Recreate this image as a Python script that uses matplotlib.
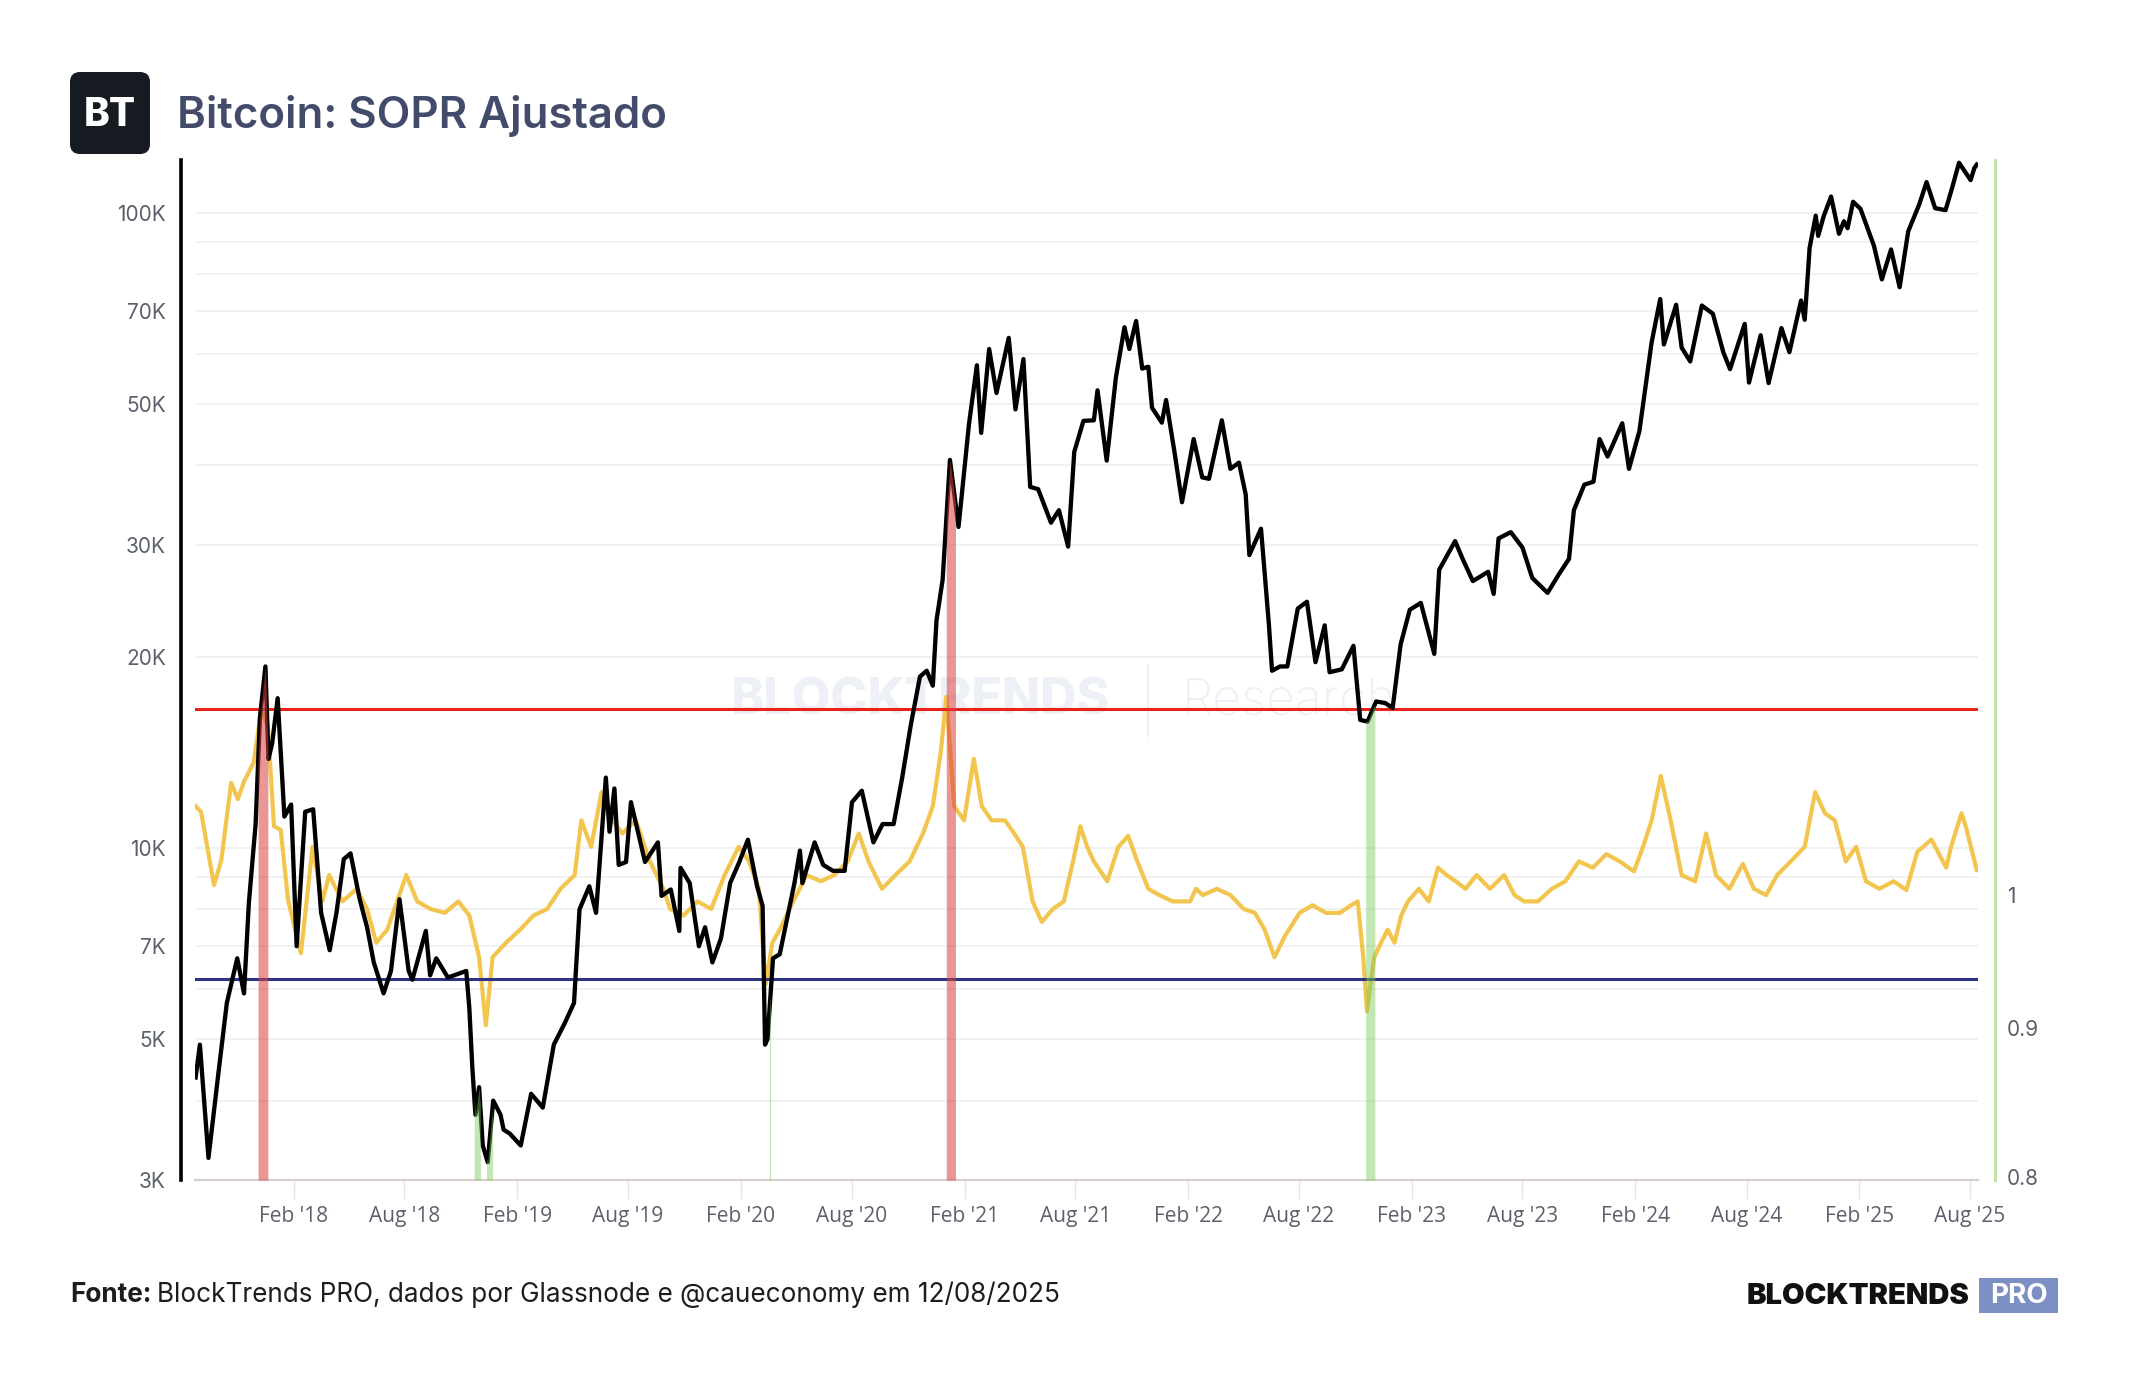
import numpy as np
import pandas as pd
import matplotlib
matplotlib.use("Agg")
import matplotlib.pyplot as plt
import matplotlib.dates as mdates
from matplotlib.patches import FancyBboxPatch, Rectangle
from matplotlib.ticker import FixedLocator, FixedFormatter, NullLocator
from matplotlib.transforms import IdentityTransform

# ---- data ----
price_dates = [
    "2017-08-25", "2017-09-01", "2017-09-15", "2017-10-01", "2017-10-15", "2017-11-01", "2017-11-12",
    "2017-11-20", "2017-12-01", "2017-12-08", "2017-12-17", "2017-12-22", "2017-12-28", "2018-01-06",
    "2018-01-17", "2018-01-28", "2018-02-06", "2018-02-20", "2018-03-05", "2018-03-18", "2018-04-01",
    "2018-04-12", "2018-04-24", "2018-05-05", "2018-05-20", "2018-06-01", "2018-06-12", "2018-06-28",
    "2018-07-10", "2018-07-24", "2018-08-08", "2018-08-14", "2018-08-29", "2018-09-05", "2018-09-12",
    "2018-09-22", "2018-10-11", "2018-10-31", "2018-11-10", "2018-11-15", "2018-11-20", "2018-11-25",
    "2018-12-01", "2018-12-07", "2018-12-15", "2018-12-24", "2019-01-05", "2019-01-10", "2019-01-20",
    "2019-02-07", "2019-02-24", "2019-03-15", "2019-04-02", "2019-04-20", "2019-05-05", "2019-05-14",
    "2019-05-30", "2019-06-10", "2019-06-26", "2019-07-02", "2019-07-10", "2019-07-17", "2019-07-29",
    "2019-08-06", "2019-08-29", "2019-09-19", "2019-09-25", "2019-10-10", "2019-10-24", "2019-10-26",
    "2019-11-10", "2019-11-25", "2019-12-05", "2019-12-17", "2019-12-31", "2020-01-15", "2020-01-30",
    "2020-02-13", "2020-02-28", "2020-03-08", "2020-03-12", "2020-03-16", "2020-03-25", "2020-04-05",
    "2020-04-29", "2020-05-08", "2020-05-12", "2020-06-01", "2020-06-15", "2020-07-01", "2020-07-20",
    "2020-08-01", "2020-08-17", "2020-09-05", "2020-09-20", "2020-10-08", "2020-10-22", "2020-11-05",
    "2020-11-20", "2020-12-01", "2020-12-11", "2020-12-17", "2020-12-27", "2021-01-08", "2021-01-22",
    "2021-02-08", "2021-02-21", "2021-02-28", "2021-03-13", "2021-03-25", "2021-04-14", "2021-04-25",
    "2021-05-08", "2021-05-19", "2021-06-01", "2021-06-22", "2021-07-05", "2021-07-20", "2021-07-30",
    "2021-08-14", "2021-08-31", "2021-09-06", "2021-09-21", "2021-10-06", "2021-10-20", "2021-10-28",
    "2021-11-08", "2021-11-18", "2021-11-28", "2021-12-04", "2021-12-20", "2021-12-27", "2022-01-10",
    "2022-01-22", "2022-02-10", "2022-02-24", "2022-03-07", "2022-03-28", "2022-04-11", "2022-04-25",
    "2022-05-06", "2022-05-12", "2022-05-31", "2022-06-13", "2022-06-18", "2022-07-01", "2022-07-13",
    "2022-07-30", "2022-08-14", "2022-08-28", "2022-09-12", "2022-09-20", "2022-10-10", "2022-10-29",
    "2022-11-09", "2022-11-21", "2022-12-05", "2022-12-20", "2023-01-01", "2023-01-14", "2023-01-29",
    "2023-02-16", "2023-03-10", "2023-03-18", "2023-04-13", "2023-04-26", "2023-05-12", "2023-06-06",
    "2023-06-15", "2023-06-23", "2023-07-13", "2023-08-01", "2023-08-17", "2023-09-11", "2023-09-30",
    "2023-10-16", "2023-10-24", "2023-11-10", "2023-11-25", "2023-12-05", "2023-12-18", "2024-01-11",
    "2024-01-22", "2024-02-08", "2024-02-28", "2024-03-13", "2024-03-19", "2024-04-08", "2024-04-17",
    "2024-05-01", "2024-05-20", "2024-06-07", "2024-06-24", "2024-07-05", "2024-07-29", "2024-08-05",
    "2024-08-24", "2024-09-06", "2024-09-27", "2024-10-10", "2024-10-29", "2024-11-04", "2024-11-12",
    "2024-11-22", "2024-11-26", "2024-12-05", "2024-12-17", "2024-12-30", "2025-01-07", "2025-01-13",
    "2025-01-22", "2025-02-03", "2025-02-25", "2025-03-10", "2025-03-25", "2025-04-08", "2025-04-22",
    "2025-05-10", "2025-05-22", "2025-06-05", "2025-06-22", "2025-07-03", "2025-07-14", "2025-07-25",
    "2025-08-02", "2025-08-08", "2025-08-12",
]
price = [
    4350, 4900, 3250, 4400, 5700, 6700, 5900,
    8200, 10900, 16000, 19300, 13800, 14600, 17200,
    11200, 11700, 7000, 11400, 11500, 7900, 6900,
    7900, 9600, 9800, 8300, 7500, 6600, 5900,
    6400, 8300, 6400, 6200, 7000, 7400, 6300,
    6700, 6250, 6350, 6400, 5600, 4500, 3800,
    4200, 3400, 3200, 4000, 3800, 3600, 3550,
    3400, 4100, 3900, 4900, 5300, 5700, 8000,
    8700, 7900, 12900, 10600, 12400, 9400, 9500,
    11800, 9500, 10200, 8400, 8600, 7400, 9300,
    8800, 7000, 7500, 6600, 7200, 8800, 9500,
    10300, 8700, 8100, 4900, 5000, 6700, 6800,
    8800, 9900, 8800, 10200, 9400, 9200, 9200,
    11800, 12300, 10200, 10900, 10900, 12900, 15600,
    18600, 19000, 18000, 22800, 26400, 40800, 32000,
    46400, 57500, 45000, 61000, 52000, 63500, 49000,
    58800, 37000, 36700, 32500, 34000, 29800, 42000,
    47000, 47100, 52500, 40700, 55000, 66000, 61000,
    67500, 56800, 57200, 49300, 46700, 50700, 41800,
    35000, 44000, 38300, 38100, 47100, 39500, 40400,
    36000, 28900, 31800, 22400, 19000, 19300, 19300,
    23800, 24400, 19600, 22400, 18900, 19100, 20800,
    15900, 15800, 17000, 16900, 16600, 20900, 23700,
    24300, 20200, 27400, 30400, 28400, 26300, 27200,
    25100, 30700, 31400, 29700, 26600, 25200, 27000,
    28500, 34000, 37300, 37700, 44000, 41300, 46600,
    39500, 45300, 62500, 73100, 62000, 71600, 61300,
    58300, 71400, 69300, 60300, 56700, 66800, 54000,
    64100, 53900, 65800, 60300, 72700, 67800, 88000,
    98900, 91900, 98700, 106000, 92600, 96900, 94500,
    104000, 101400, 88700, 78500, 87500, 76300, 93400,
    103000, 111700, 101600, 100900, 109600, 119800, 115500,
    112500, 117500, 119000,
]

sopr_dates = [
    "2017-08-25", "2017-09-03", "2017-09-24", "2017-10-06", "2017-10-22", "2017-11-02", "2017-11-12",
    "2017-11-28", "2017-12-10", "2017-12-21", "2017-12-31", "2018-01-11", "2018-01-23", "2018-02-13",
    "2018-03-04", "2018-03-20", "2018-03-31", "2018-04-22", "2018-05-15", "2018-06-01", "2018-06-16",
    "2018-07-04", "2018-07-20", "2018-08-04", "2018-08-22", "2018-09-13", "2018-10-06", "2018-10-28",
    "2018-11-15", "2018-12-01", "2018-12-12", "2018-12-23", "2019-01-14", "2019-02-06", "2019-02-28",
    "2019-03-22", "2019-04-13", "2019-05-06", "2019-05-17", "2019-06-02", "2019-06-19", "2019-07-07",
    "2019-07-23", "2019-08-14", "2019-09-06", "2019-09-28", "2019-10-09", "2019-10-31", "2019-11-23",
    "2019-12-15", "2020-01-06", "2020-01-29", "2020-02-15", "2020-03-02", "2020-03-13", "2020-03-24",
    "2020-04-05", "2020-04-27", "2020-05-19", "2020-06-11", "2020-07-03", "2020-07-25", "2020-08-12",
    "2020-08-28", "2020-09-19", "2020-10-11", "2020-11-03", "2020-11-25", "2020-12-11", "2020-12-24",
    "2021-01-02", "2021-01-15", "2021-01-31", "2021-02-16", "2021-03-01", "2021-03-17", "2021-04-08",
    "2021-04-23", "2021-05-07", "2021-05-23", "2021-06-07", "2021-06-25", "2021-07-13", "2021-07-28",
    "2021-08-09", "2021-08-20", "2021-08-31", "2021-09-22", "2021-10-10", "2021-10-26", "2021-11-10",
    "2021-11-28", "2021-12-16", "2022-01-07", "2022-02-04", "2022-02-14", "2022-02-25", "2022-03-20",
    "2022-04-11", "2022-05-03", "2022-05-21", "2022-06-06", "2022-06-22", "2022-07-09", "2022-08-02",
    "2022-08-23", "2022-09-14", "2022-10-07", "2022-10-25", "2022-11-05", "2022-11-14", "2022-11-20",
    "2022-12-02", "2022-12-13", "2022-12-24", "2023-01-04", "2023-01-15", "2023-01-26", "2023-02-13",
    "2023-03-01", "2023-03-16", "2023-03-30", "2023-04-14", "2023-04-30", "2023-05-18", "2023-06-09",
    "2023-07-02", "2023-07-19", "2023-08-04", "2023-08-26", "2023-09-18", "2023-10-10", "2023-11-01",
    "2023-11-24", "2023-12-16", "2024-01-07", "2024-01-30", "2024-02-14", "2024-02-28", "2024-03-14",
    "2024-03-30", "2024-04-17", "2024-05-09", "2024-05-27", "2024-06-12", "2024-07-04", "2024-07-26",
    "2024-08-13", "2024-09-02", "2024-09-20", "2024-10-12", "2024-11-04", "2024-11-21", "2024-12-07",
    "2024-12-23", "2025-01-10", "2025-01-27", "2025-02-12", "2025-03-06", "2025-03-29", "2025-04-19",
    "2025-05-07", "2025-05-30", "2025-06-23", "2025-07-01", "2025-07-18", "2025-07-25", "2025-08-12",
]
sopr = [
    1.073, 1.068, 1.008, 1.028, 1.093, 1.079, 1.094,
    1.111, 1.158, 1.143, 1.056, 1.053, 0.996, 0.955,
    1.039, 0.995, 1.016, 0.995, 1.005, 0.989, 0.963,
    0.973, 0.995, 1.016, 0.995, 0.989, 0.986, 0.995,
    0.984, 0.952, 0.902, 0.952, 0.963, 0.973, 0.984,
    0.989, 1.005, 1.016, 1.061, 1.039, 1.085, 1.061,
    1.050, 1.061, 1.027, 1.005, 0.989, 0.984, 0.995,
    0.989, 1.016, 1.039, 1.027, 1.005, 0.932, 0.963,
    0.973, 0.995, 1.016, 1.011, 1.016, 1.027, 1.050,
    1.027, 1.005, 1.016, 1.027, 1.050, 1.073, 1.120,
    1.170, 1.073, 1.061, 1.114, 1.073, 1.061, 1.061,
    1.050, 1.039, 0.995, 0.979, 0.989, 0.995, 1.027,
    1.056, 1.039, 1.027, 1.011, 1.039, 1.048, 1.027,
    1.005, 1.000, 0.995, 0.995, 1.005, 1.000, 1.005,
    1.000, 0.989, 0.986, 0.973, 0.952, 0.968, 0.986,
    0.992, 0.986, 0.986, 0.992, 0.995, 0.952, 0.912,
    0.952, 0.963, 0.973, 0.963, 0.984, 0.995, 1.005,
    0.995, 1.022, 1.016, 1.011, 1.005, 1.016, 1.005,
    1.016, 1.000, 0.995, 0.995, 1.005, 1.011, 1.027,
    1.022, 1.033, 1.027, 1.019, 1.039, 1.061, 1.099,
    1.061, 1.016, 1.011, 1.050, 1.016, 1.005, 1.025,
    1.005, 1.000, 1.016, 1.027, 1.039, 1.085, 1.067,
    1.061, 1.027, 1.039, 1.011, 1.005, 1.011, 1.004,
    1.035, 1.045, 1.022, 1.039, 1.067, 1.056, 1.020,
]

upper_level = 1.159
lower_level = 0.936

red_zones = [("2017-12-05", "2017-12-21"), ("2021-01-02", "2021-01-17")]
green_zones = [("2018-11-23", "2018-12-03"), ("2018-12-13", "2018-12-23"),
               ("2020-03-19", "2020-03-21"), ("2022-11-18", "2022-12-03")]

price_ticks = [3000, 4000, 5000, 6000, 7000, 8000, 9000, 10000,
               20000, 30000, 40000, 50000, 60000, 70000, 80000, 90000, 100000]
price_labels = {3000: "3K", 5000: "5K", 7000: "7K", 10000: "10K", 20000: "20K",
                30000: "30K", 50000: "50K", 70000: "70K", 100000: "100K"}
sopr_ticks = [0.8, 0.9, 1.0]
sopr_labels = ["0.8", "0.9", "1"]

# ---- figure ----
W, H = 2144, 1400
plt.rcParams["font.family"] = ["Inter", "DejaVu Sans"]
fig = plt.figure(figsize=(W / 100, H / 100), dpi=100)


def fx(x):
    return x / W


def fy(y):
    return 1 - y / H


ax = fig.add_axes([fx(195), fy(1180), fx(1978) - fx(195), fy(160) - fy(1180)])
ax2 = ax.twinx()

pd_price_dates = pd.to_datetime(price_dates)
pd_sopr_dates = pd.to_datetime(sopr_dates)
axis_font = ["Open Sans", "DejaVu Sans"]

# price axis (left, log)
ax.set_yscale("log")
ax.yaxis.set_major_locator(FixedLocator(price_ticks))
ax.yaxis.set_major_formatter(FixedFormatter([price_labels.get(v, "") for v in price_ticks]))
ax.yaxis.set_minor_locator(NullLocator())
ax.tick_params(axis="y", length=0, pad=11, labelsize=15, labelcolor="#5b606c")
for lab in ax.get_yticklabels():
    lab.set_family(axis_font)
ax.grid(axis="y", color="#efefef", lw=1.2)
ax.set_axisbelow(True)

# sopr axis (right, log)
ax2.set_yscale("log")
ax2.yaxis.set_major_locator(FixedLocator(sopr_ticks))
ax2.yaxis.set_major_formatter(FixedFormatter(sopr_labels))
ax2.yaxis.set_minor_locator(NullLocator())
ax2.tick_params(axis="y", length=0, pad=9, labelsize=15, labelcolor="#5b606c")
for lab in ax2.get_yticklabels():
    lab.set_family(axis_font)

# x axis
xt, xl = [], []
for yr in range(2018, 2026):
    for m, name in ((2, "Feb"), (8, "Aug")):
        xt.append(pd.Timestamp(yr, m, 1))
        xl.append(f"{name} '{yr % 100:02d}")
ax.set_xticks(xt)
ax.set_xticklabels(xl, family=axis_font)
ax.tick_params(axis="x", length=14, width=1, color="#e4e4e4", pad=5, labelsize=15, labelcolor="#5b606c")

# spines
ax.spines["top"].set_visible(False)
ax.spines["right"].set_visible(False)
ax.spines["left"].set_position(("outward", 10))
ax.spines["left"].set_color("black")
ax.spines["left"].set_linewidth(2.6)
ax.spines["bottom"].set_color("#d9d0cc")
ax.spines["bottom"].set_linewidth(1.6)
for s in ("top", "bottom", "left"):
    ax2.spines[s].set_visible(False)
ax2.spines["right"].set_position(("outward", 12))
ax2.spines["right"].set_color("#bce5a6")
ax2.spines["right"].set_linewidth(2.2)

# series
ax2.plot(pd_sopr_dates, sopr, color="#f2c54e", lw=3.0, zorder=2, solid_joinstyle="round")
ax2.axhline(upper_level, color="#e8231a", lw=2.2, zorder=2.5)
ax2.axhline(lower_level, color="#2d3282", lw=2.2, zorder=2.5)
ax2.plot(pd_price_dates, price, color="black", lw=3.1, transform=ax.transData, zorder=3,
         solid_joinstyle="round")

# highlighted zones under the price line
pnum = mdates.date2num(pd_price_dates)
logp = np.log10(price)
for zones, col, alpha in ((red_zones, "#d9403f", 0.55), (green_zones, "#79c95a", 0.45)):
    for a, b in zones:
        d = pd.date_range(a, b, freq="6h")
        top = 10 ** np.interp(mdates.date2num(d), pnum, logp)
        ax2.fill_between(d, 3000, top, color=col, alpha=alpha, lw=0,
                         transform=ax.transData, zorder=4)

ax.set_xlim(pd.Timestamp("2017-08-24"), pd.Timestamp("2025-08-14"))
ax.set_ylim(3000, 121000)
ax2.set_ylim(0.798, 1.79)

# watermark
wm = "#edf0f6"
ax.text(0.513, 0.47, "BLOCKTRENDS", transform=ax.transAxes, ha="right", va="center",
        fontsize=36, fontweight="heavy", color=wm, zorder=0.3)
ax.plot([0.5345, 0.5345], [0.435, 0.505], transform=ax.transAxes, color=wm, lw=1.5, zorder=0.3)
ax.text(0.5536, 0.47, "Research", transform=ax.transAxes, ha="left", va="center",
        fontsize=36, fontweight="light", color=wm, zorder=0.3)

# header
fig.add_artist(FancyBboxPatch((70, H - 154), 80, 82, boxstyle="round,pad=0,rounding_size=10",
                              transform=IdentityTransform(), fc="#161a21", ec="none"))
fig.text(fx(110), fy(116), "BT", ha="center", va="center", color="white",
         fontsize=28, fontweight="heavy")
fig.text(fx(177), fy(116), "Bitcoin: SOPR Ajustado", ha="left", va="center",
         fontsize=31.5, fontweight="semibold", color="#434b6b")

# footer
t1 = fig.text(fx(70), fy(1295), "Fonte:", ha="left", va="center", fontsize=18.8,
              fontweight="bold", color="#1d1d1f")
fig.canvas.draw()
bb = t1.get_window_extent()
fig.text((bb.x1 + 6) / W, fy(1295), "BlockTrends PRO, dados por Glassnode e @caueconomy em 12/08/2025",
         ha="left", va="center", fontsize=18.8, color="#1d1d1f")

fig.text(fx(1969), fy(1296), "BLOCKTRENDS", ha="right", va="center", fontsize=21,
         fontweight="black", color="#111111")
fig.add_artist(Rectangle((1979, H - 1313), 79, 35, transform=IdentityTransform(),
                         fc="#7d90c4", ec="none"))
fig.text(fx(2018.5), fy(1296), "PRO", ha="center", va="center", fontsize=20,
         fontweight="bold", color="white")

fig.savefig("out.png", dpi=100)
